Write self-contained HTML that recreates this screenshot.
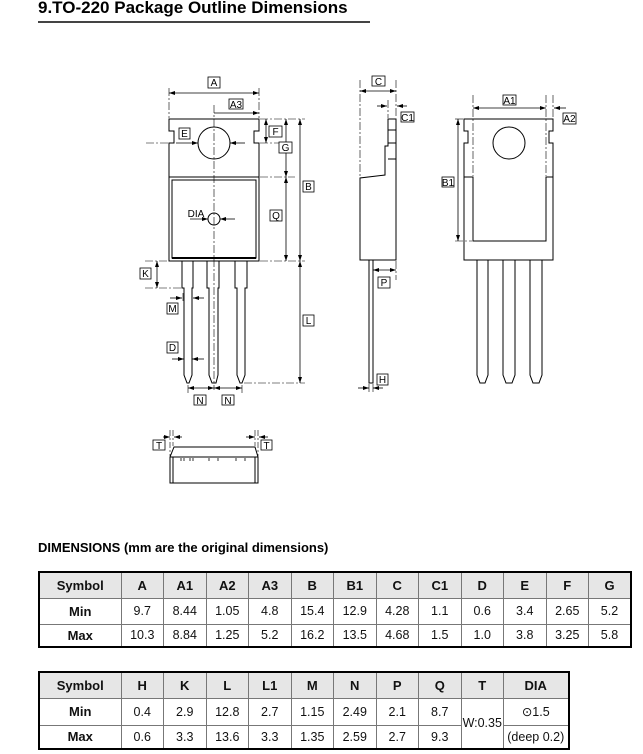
<!DOCTYPE html>
<html><head><meta charset="utf-8"><style>
body{margin:0;background:#fff;width:643px;height:754px;position:relative;overflow:hidden;font-family:"Liberation Sans",Arial,sans-serif}
.t{position:absolute;font-weight:bold;color:#000}
table{position:absolute;border-collapse:collapse;border:2px solid #000;font-size:12.5px;table-layout:fixed}
td{border:1px solid #777;text-align:center;padding:0;color:#111}
tr.h td{background:#e6e6e6;font-weight:bold;font-size:13px}
td.s{font-weight:bold;font-size:13px}
</style></head><body>
<div class="t" style="left:38px;top:-2px;font-size:17px">9.TO-220 Package Outline Dimensions</div>
<div style="position:absolute;left:38px;top:21px;width:332px;height:2px;background:#444"></div>
<svg width="643" height="520" style="position:absolute;left:0;top:0" font-family="Liberation Sans, Arial, sans-serif" font-size="10">
<defs><marker id="ar" markerWidth="6" markerHeight="6" refX="6" refY="3" orient="auto-start-reverse" markerUnits="userSpaceOnUse"><path d="M0,1 L6,3 L0,5z" fill="#000"/></marker></defs>
<g fill="none" stroke="#000" stroke-width="1">
<path d="M169,119 H259 V131 H254 V143 H259 V177 H169 V143 H174 V131 H169 Z"/>
<circle cx="214" cy="143" r="16"/>
<rect x="169" y="177" width="90" height="84"/>
<rect x="172" y="180" width="84" height="78"/>
<line x1="172" y1="258" x2="256" y2="258" stroke-width="2"/>
<circle cx="214" cy="219" r="6"/>
<path d="M182,261 V288 H184 V375 L187,383 H189 L192,375 V288 H193 V261"/>
<path d="M207,261 V288 H209 V375 L212,383 H216 L218,375 V288 H219 V261"/>
<path d="M235,261 V288 H237 V375 L240,383 H242 L245,375 V288 H247 V261"/>
<g stroke-width="0.6" stroke-dasharray="8,2,2,2">
<line x1="214" y1="105" x2="214" y2="390"/>
<line x1="146" y1="143" x2="168" y2="143"/>
<line x1="260" y1="143" x2="290" y2="143"/>
<line x1="169" y1="88" x2="169" y2="118"/><line x1="259" y1="88" x2="259" y2="118"/>
<line x1="260" y1="119" x2="305" y2="119"/><line x1="260" y1="177" x2="295" y2="177"/>
<line x1="260" y1="261" x2="305" y2="261"/><line x1="145" y1="261" x2="168" y2="261"/>
<line x1="145" y1="288" x2="182" y2="288"/><line x1="244" y1="383" x2="305" y2="383"/>
<line x1="188" y1="385" x2="188" y2="395"/><line x1="242" y1="385" x2="242" y2="395"/>
<line x1="183" y1="293" x2="183" y2="303"/><line x1="192" y1="293" x2="192" y2="303"/>
</g>
<g stroke-width="0.8">
<line x1="169" y1="93" x2="259" y2="93" marker-start="url(#ar)" marker-end="url(#ar)"/>
<line x1="214" y1="113" x2="259" y2="113" marker-end="url(#ar)"/>
<line x1="176" y1="143" x2="198" y2="143" marker-end="url(#ar)"/>
<line x1="245" y1="143" x2="230" y2="143" marker-end="url(#ar)"/>
<line x1="190" y1="219" x2="208" y2="219" marker-end="url(#ar)"/>
<line x1="235" y1="219" x2="220" y2="219" marker-end="url(#ar)"/>
<line x1="266" y1="119" x2="266" y2="143" marker-start="url(#ar)" marker-end="url(#ar)"/>
<line x1="286" y1="119" x2="286" y2="177" marker-start="url(#ar)" marker-end="url(#ar)"/>
<line x1="286" y1="177" x2="286" y2="261" marker-start="url(#ar)" marker-end="url(#ar)"/>
<line x1="300" y1="119" x2="300" y2="261" marker-start="url(#ar)" marker-end="url(#ar)"/>
<line x1="300" y1="261" x2="300" y2="383" marker-start="url(#ar)" marker-end="url(#ar)"/>
<line x1="157" y1="261" x2="157" y2="288" marker-start="url(#ar)" marker-end="url(#ar)"/>
<line x1="170" y1="298" x2="182" y2="298" marker-end="url(#ar)"/>
<line x1="204" y1="298" x2="193" y2="298" marker-end="url(#ar)"/>
<line x1="172" y1="359" x2="184" y2="359" marker-end="url(#ar)"/>
<line x1="204" y1="359" x2="192" y2="359" marker-end="url(#ar)"/>
<line x1="188" y1="388" x2="214" y2="388" marker-start="url(#ar)" marker-end="url(#ar)"/>
<line x1="214" y1="388" x2="242" y2="388" marker-start="url(#ar)" marker-end="url(#ar)"/>
</g>
<path d="M396,119 H388 V146 H385 V175 L360,178 V260 H396 Z"/>
<line x1="388" y1="130" x2="396" y2="130"/><line x1="388" y1="143" x2="396" y2="143"/><line x1="388" y1="159" x2="396" y2="159"/>
<path d="M369,260 V383 H373 V260"/>
<g stroke-width="0.6" stroke-dasharray="8,2,2,2">
<line x1="360" y1="80" x2="360" y2="177"/><line x1="396" y1="80" x2="396" y2="118"/>
<line x1="388" y1="100" x2="388" y2="118"/><line x1="396" y1="261" x2="396" y2="280"/>
<line x1="369" y1="384" x2="369" y2="392"/><line x1="373" y1="384" x2="373" y2="392"/>
</g>
<g stroke-width="0.8">
<line x1="360" y1="91" x2="396" y2="91" marker-start="url(#ar)" marker-end="url(#ar)"/>
<line x1="377" y1="106" x2="387" y2="106" marker-end="url(#ar)"/>
<line x1="407" y1="106" x2="397" y2="106" marker-end="url(#ar)"/>
<line x1="373" y1="270" x2="396" y2="270" marker-start="url(#ar)" marker-end="url(#ar)"/>
<line x1="358" y1="388" x2="369" y2="388" marker-end="url(#ar)"/>
<line x1="383" y1="388" x2="373" y2="388" marker-end="url(#ar)"/>
</g>
<path d="M464,119 H553 V131 H549 V143 H553 V260 H464 V143 H468 V131 H464 Z"/>
<circle cx="509" cy="143" r="16"/>
<path d="M464,177 H473 V241 H546 V177 H553"/>
<path d="M477,260 V375 L480,383 H485 L488,375 V260"/>
<path d="M503,260 V375 L506,383 H512 L515,375 V260"/>
<path d="M530,260 V375 L533,383 H539 L542,375 V260"/>
<g stroke-width="0.6" stroke-dasharray="8,2,2,2">
<line x1="473" y1="95" x2="473" y2="176"/><line x1="546" y1="95" x2="546" y2="176"/>
<line x1="553" y1="95" x2="553" y2="118"/>
<line x1="455" y1="119" x2="463" y2="119"/><line x1="455" y1="241" x2="472" y2="241"/>
</g>
<g stroke-width="0.8">
<line x1="473" y1="108" x2="546" y2="108" marker-start="url(#ar)" marker-end="url(#ar)"/>
<line x1="566" y1="108" x2="554" y2="108" marker-end="url(#ar)"/>
<line x1="458" y1="119" x2="458" y2="241" marker-start="url(#ar)" marker-end="url(#ar)"/>
</g>
<path d="M174,447 H255 L258,457 V483 H170 V457 Z"/>
<line x1="170" y1="457" x2="258" y2="457"/>
<line x1="173" y1="457" x2="173" y2="483"/><line x1="255" y1="457" x2="255" y2="483"/>
<g stroke-width="0.8">
<line x1="181" y1="458" x2="181" y2="461"/><line x1="184" y1="458" x2="184" y2="461"/>
<line x1="190" y1="458" x2="190" y2="461"/><line x1="193" y1="458" x2="193" y2="461"/>
<line x1="209" y1="458" x2="209" y2="461"/><line x1="218" y1="458" x2="218" y2="461"/>
<line x1="236" y1="458" x2="236" y2="461"/><line x1="245" y1="458" x2="245" y2="461"/>
<line x1="163" y1="437" x2="170" y2="437" marker-end="url(#ar)"/>
<line x1="182" y1="437" x2="174" y2="437" marker-end="url(#ar)"/>
<line x1="246" y1="437" x2="255" y2="437" marker-end="url(#ar)"/>
<line x1="268" y1="437" x2="259" y2="437" marker-end="url(#ar)"/>
</g>
<g stroke-width="0.6" stroke-dasharray="6,2,2,2">
<line x1="170" y1="430" x2="170" y2="456"/><line x1="173" y1="430" x2="173" y2="446"/>
<line x1="255" y1="430" x2="255" y2="446"/><line x1="258" y1="430" x2="258" y2="456"/>
</g>
<g stroke-width="0.8" fill="#fff">
<rect x="208" y="77" width="12" height="11"/><rect x="229" y="99" width="14" height="10"/>
<rect x="179" y="128" width="11" height="11"/><rect x="269" y="126" width="13" height="11"/>
<rect x="279" y="142" width="13" height="11"/><rect x="303" y="181" width="11" height="11"/>
<rect x="270" y="210" width="12" height="11"/><rect x="140" y="268" width="11" height="11"/>
<rect x="167" y="303" width="11" height="11"/><rect x="167" y="342" width="11" height="11"/>
<rect x="303" y="315" width="11" height="11"/><rect x="194" y="395" width="12" height="10"/>
<rect x="222" y="395" width="12" height="10"/>
<rect x="372" y="76" width="13" height="10"/><rect x="401" y="112" width="13" height="10"/>
<rect x="378" y="277" width="12" height="11"/><rect x="377" y="374" width="11" height="11"/>
<rect x="503" y="95" width="13" height="10"/><rect x="563" y="113" width="13" height="11"/>
<rect x="442" y="177" width="12" height="10"/>
<rect x="153" y="440" width="12" height="10"/><rect x="261" y="440" width="11" height="10"/>
</g>
</g>
<g text-anchor="middle" fill="#000">
<text x="214" y="86">A</text><text x="236" y="108">A3</text>
<text x="184.5" y="137">E</text><text x="275.5" y="135">F</text>
<text x="285.5" y="151">G</text><text x="308.5" y="190">B</text>
<text x="276" y="219">Q</text><text x="145.5" y="277">K</text>
<text x="172.5" y="312">M</text><text x="172.5" y="351">D</text>
<text x="308.5" y="324">L</text><text x="200" y="404">N</text><text x="228" y="404">N</text>
<text x="378.5" y="85">C</text><text x="407.5" y="121">C1</text>
<text x="384" y="286">P</text><text x="382.5" y="383">H</text>
<text x="509.5" y="104">A1</text><text x="569.5" y="122">A2</text>
<text x="448" y="186">B1</text>
<text x="159" y="449">T</text><text x="266.5" y="449">T</text>
<text x="196" y="217">DIA</text>
</g>
</svg>
<div class="t" style="left:38px;top:540px;font-size:13px">DIMENSIONS (mm are the original dimensions)</div>
<table style="left:38px;top:571px;width:592px">
<colgroup><col style="width:82px"><col span="12" style="width:42.5px"></colgroup>
<tr class="h" style="height:26px"><td>Symbol</td><td>A</td><td>A1</td><td>A2</td><td>A3</td><td>B</td><td>B1</td><td>C</td><td>C1</td><td>D</td><td>E</td><td>F</td><td>G</td></tr>
<tr style="height:26px"><td class="s">Min</td><td>9.7</td><td>8.44</td><td>1.05</td><td>4.8</td><td>15.4</td><td>12.9</td><td>4.28</td><td>1.1</td><td>0.6</td><td>3.4</td><td>2.65</td><td>5.2</td></tr>
<tr style="height:23px"><td class="s">Max</td><td>10.3</td><td>8.84</td><td>1.25</td><td>5.2</td><td>16.2</td><td>13.5</td><td>4.68</td><td>1.5</td><td>1.0</td><td>3.8</td><td>3.25</td><td>5.8</td></tr>
</table>
<table style="left:38px;top:671px;width:530px">
<colgroup><col style="width:82px"><col span="9" style="width:42.5px"><col style="width:65px"></colgroup>
<tr class="h" style="height:26px"><td>Symbol</td><td>H</td><td>K</td><td>L</td><td>L1</td><td>M</td><td>N</td><td>P</td><td>Q</td><td>T</td><td>DIA</td></tr>
<tr style="height:27px"><td class="s">Min</td><td>0.4</td><td>2.9</td><td>12.8</td><td>2.7</td><td>1.15</td><td>2.49</td><td>2.1</td><td>8.7</td><td rowspan="2">W:0.35</td><td>⊙1.5</td></tr>
<tr style="height:24px"><td class="s">Max</td><td>0.6</td><td>3.3</td><td>13.6</td><td>3.3</td><td>1.35</td><td>2.59</td><td>2.7</td><td>9.3</td><td>(deep 0.2)</td></tr>
</table>
</body></html>
